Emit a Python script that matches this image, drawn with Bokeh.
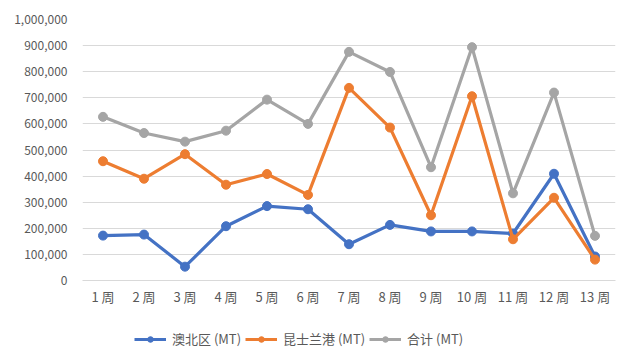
from bokeh.plotting import figure
from bokeh.layouts import column
from bokeh.models import FactorRange, Range1d, FixedTicker, NumeralTickFormatter, Legend, LegendItem
from bokeh.embed import file_html
from bokeh.resources import INLINE

weeks = ["1 周", "2 周", "3 周", "4 周", "5 周", "6 周", "7 周", "8 周", "9 周", "10 周", "11 周", "12 周", "13 周"]
aubei = [172000, 176000, 53000, 208000, 285000, 273000, 139000, 213000, 188000, 188000, 180000, 409000, 92000]
kunshi = [457000, 390000, 484000, 367000, 408000, 328000, 738000, 586000, 250000, 706000, 158000, 317000, 80000]
total = [627000, 565000, 532000, 574000, 693000, 600000, 876000, 799000, 434000, 894000, 334000, 720000, 171000]
series_names = ["澳北区 (MT)", "昆士兰港 (MT)", "合计 (MT)"]
colors = ["#4472C4", "#ED7D31", "#A5A5A5"]
y_ticks = list(range(0, 1000001, 100000))

FONT = "Noto Sans CJK SC"

p = figure(width=619, height=308, x_range=FactorRange(*weeks), y_range=Range1d(0, 1000000),
           output_backend="svg", toolbar_location=None,
           min_border_left=82, min_border_right=4, min_border_top=19, min_border_bottom=25)
p.outline_line_color = None
p.background_fill_color = "white"
p.border_fill_color = "white"

p.xgrid.grid_line_color = None
p.ygrid.grid_line_color = "#D9D9D9"
p.ygrid.grid_line_width = 1

p.yaxis.ticker = FixedTicker(ticks=y_ticks)
p.yaxis.formatter = NumeralTickFormatter(format="0,0")
p.yaxis.axis_line_color = None
p.yaxis.major_tick_line_color = None
p.yaxis.minor_tick_line_color = None
p.yaxis.major_label_standoff = 9
p.xaxis.axis_line_color = "#D9D9D9"
p.xaxis.major_tick_line_color = None
p.xaxis.minor_tick_line_color = None
p.xaxis.major_tick_out = 0
p.xaxis.major_tick_in = 0
p.xaxis.minor_tick_out = 0
p.xaxis.major_label_standoff = 6
for ax in (p.xaxis, p.yaxis):
    ax.major_label_text_font = FONT
    ax.major_label_text_color = "#595959"
p.yaxis.major_label_text_font_size = "12px"
p.xaxis.major_label_text_font_size = "13px"

for vals, c in zip([aubei, kunshi, total], colors):
    p.line(weeks, vals, line_color=c, line_width=3.2)
    p.scatter(weeks, vals, size=9, fill_color=c, line_color=c)

# legend strip below the chart (series drawn off-range so only the legend shows)
q = figure(width=619, height=46, x_range=FactorRange(*weeks), y_range=Range1d(-2000000, -1000000),
           output_backend="svg", toolbar_location=None, x_axis_type=None, y_axis_type=None,
           min_border_left=0, min_border_right=0, min_border_top=0, min_border_bottom=0)
q.outline_line_color = None
q.xgrid.grid_line_color = None
q.ygrid.grid_line_color = None
q.background_fill_color = "white"
q.border_fill_color = "white"

items = []
for name, vals, c in zip(series_names, [aubei, kunshi, total], colors):
    r1 = q.line(weeks, vals, line_color=c, line_width=3.2)
    r2 = q.scatter(weeks, vals, size=9, fill_color=c, line_color=c)
    items.append(LegendItem(label=name, renderers=[r1, r2]))

legend = Legend(items=items, orientation="horizontal", location=(52, 6),
                label_text_font=FONT, label_text_font_size="13px", label_text_color="#595959",
                glyph_width=32, glyph_height=14, label_height=14, label_standoff=6, spacing=4,
                border_line_color=None, background_fill_alpha=0, padding=0, margin=0)
q.add_layout(legend, "center")

layout = column(p, q, spacing=0)
open("out.html", "w").write(file_html(layout, INLINE))
